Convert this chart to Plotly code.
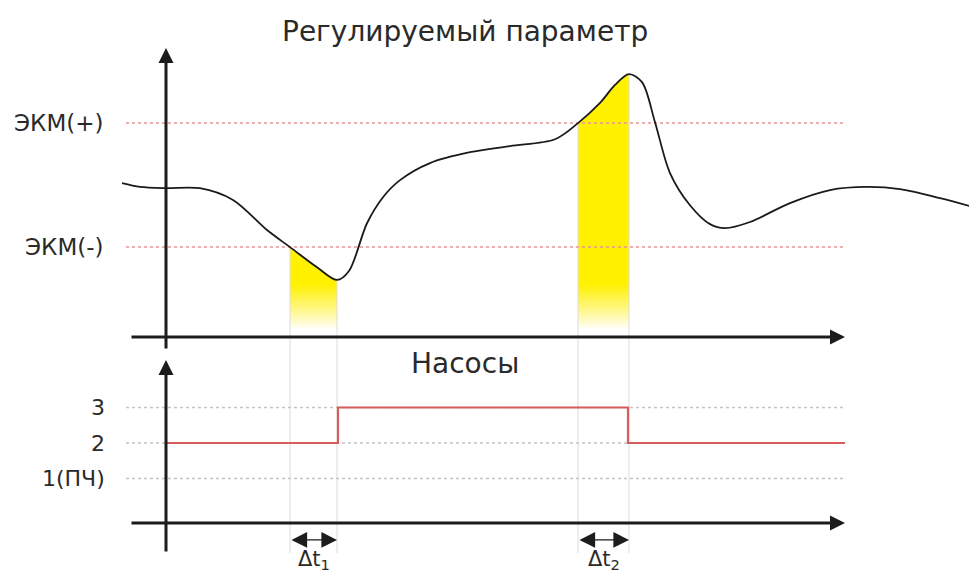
import numpy as np
import plotly.graph_objects as go

# ---------------- data ----------------
# time axis (arbitrary units); 0 = vertical axis
t_curve = [-4.4, -2.6, 0.0, 3.4, 6.7, 10.1, 12.4, 15.1, 17.1, 18.3, 20.1, 21.7, 23.4,
           26.4, 30.4, 34.4, 38.9, 41.2, 43.4, 44.9, 46.3, 47.6, 48.9, 50.4, 52.4,
           54.4, 55.9, 58.4, 62.4, 66.4, 70.1, 73.4, 77.4, 81.1]
v_curve = [4.96, 4.84, 4.80, 4.80, 4.42, 3.45, 2.90, 2.25, 1.84, 2.13, 3.67, 4.51, 5.06,
           5.61, 5.96, 6.16, 6.38, 6.90, 7.55, 8.13, 8.48, 8.22, 6.93, 5.29, 4.25,
           3.64, 3.51, 3.71, 4.32, 4.74, 4.84, 4.77, 4.48, 4.16]

ekm_plus = 6.9
ekm_minus = 2.9
ekm_labels = ["ЭКМ(+)", "ЭКМ(-)"]

# pump stages
pump_t = [0.0, 17.2, 46.2, 67.9]
pump_n = [2, 3, 2, 2]
pump_levels = [3, 2, 1]
pump_labels = ["3", "2", "1(ПЧ)"]

# delta-t intervals (start, end) and labels
dt_intervals = [(12.4, 17.1), (41.2, 46.3)]
dt_labels = ["Δt<sub>1</sub>", "Δt<sub>2</sub>"]

title_top = "Регулируемый параметр"
title_bottom = "Насосы"

# axis extents
t_axis_start, t_axis_end = -3.6, 67.9
t_grid_start = -4.0
top_v_min, top_v_max = -0.42, 9.32
bot_base = -0.254
bot_n_min, bot_n_max = -1.10, 4.34
fill_white, fill_yellow = 0.23, 1.7   # gradient fade (top-panel units)
dt_arrow_level = -0.73
dt_label_level = -1.30
vline_bottom = -6.97

# ---------------- figure ----------------
fig = go.Figure()

AX_COL = "#1c1c1c"
RED_DOT = "#e69494"
GREY_DOT = "#c4c4c4"
YEL = "#fff100"

# yellow gradient fills
for (a, b) in dt_intervals:
    idx = [i for i, t in enumerate(t_curve) if a - 1e-9 <= t <= b + 1e-9]
    xs = [t_curve[i] for i in idx]
    ys = [v_curve[i] for i in idx]
    fig.add_trace(go.Scatter(x=[xs[0], xs[-1]], y=[fill_white, fill_white], mode="lines",
                             line=dict(width=0), hoverinfo="skip", showlegend=False))
    fig.add_trace(go.Scatter(x=xs, y=ys, mode="lines", line=dict(width=0, shape="spline"),
                             fill="tonexty",
                             fillgradient=dict(type="vertical", start=fill_white, stop=fill_yellow,
                                               colorscale=[[0, "rgba(255,255,255,1)"],
                                                           [0.35, "#fff8a0"],
                                                           [1, YEL]]),
                             hoverinfo="skip", showlegend=False))

# thin grey vertical guide lines
for (a, b) in dt_intervals:
    for t in (a, b):
        v_at = float(np.interp(t, t_curve, v_curve))
        fig.add_trace(go.Scatter(x=[t, t], y=[v_at, vline_bottom], mode="lines",
                                 line=dict(color="#dcdcdc", width=1),
                                 hoverinfo="skip", showlegend=False))

# threshold dotted lines
for lvl in (ekm_plus, ekm_minus):
    fig.add_trace(go.Scatter(x=[t_grid_start, t_axis_end], y=[lvl, lvl], mode="lines",
                             line=dict(color=RED_DOT, width=1.5, dash="dot"),
                             hoverinfo="skip", showlegend=False))

# pump level dotted lines
for lvl in pump_levels:
    fig.add_trace(go.Scatter(x=[t_grid_start, t_axis_end], y=[lvl, lvl], mode="lines",
                             yaxis="y2", line=dict(color=GREY_DOT, width=1.5, dash="dot"),
                             hoverinfo="skip", showlegend=False))

# curve
fig.add_trace(go.Scatter(x=t_curve, y=v_curve, mode="lines",
                         line=dict(color="#1a1a1a", width=1.8, shape="spline", smoothing=0.9),
                         hoverinfo="skip", showlegend=False))

# pump step
fig.add_trace(go.Scatter(x=pump_t, y=pump_n, mode="lines", yaxis="y2",
                         line=dict(color="#d95c5c", width=2.2, shape="hv"),
                         hoverinfo="skip", showlegend=False))

ann = []
def arrow(x0, y0, x1, y1, yref, width=3, size=1.0, head=2, side="end"):
    ann.append(dict(x=x1, y=y1, ax=x0, ay=y0, xref="x", yref=yref, axref="x", ayref=yref,
                    showarrow=True, arrowhead=head, arrowsize=size, arrowwidth=width,
                    arrowcolor=AX_COL, arrowside=side, text=""))

# axes with arrows
arrow(0, top_v_min, 0, top_v_max, "y")
arrow(t_axis_start, 0, t_axis_end, 0, "y")
arrow(0, bot_n_min, 0, bot_n_max, "y2")
arrow(t_axis_start, bot_base, t_axis_end, bot_base, "y2")

# delta-t double arrows
for (a, b) in dt_intervals:
    arrow(a, dt_arrow_level, b, dt_arrow_level, "y2", width=1.2, size=2.6, head=2, side="end+start")

FONT = "DejaVu Sans"
TXT = "#2a2a2a"
for lbl, lvl in zip(ekm_labels, (ekm_plus, ekm_minus)):
    ann.append(dict(x=-6.1, y=lvl, xref="x", yref="y", text=lbl, showarrow=False,
                    xanchor="right", yanchor="middle", font=dict(family=FONT, size=23, color=TXT)))
for lbl, lvl in zip(pump_labels, pump_levels):
    ann.append(dict(x=-5.9, y=lvl, xref="x", yref="y2", text=lbl, showarrow=False,
                    xanchor="right", yanchor="middle", font=dict(family=FONT, size=22, color=TXT)))
for (a, b), lbl in zip(dt_intervals, dt_labels):
    ann.append(dict(x=(a + b) / 2, y=dt_label_level, xref="x", yref="y2", text=lbl, showarrow=False,
                    xanchor="center", yanchor="middle", font=dict(family=FONT, size=21, color=TXT)))

ann.append(dict(x=29.9, y=9.84, xref="x", yref="y", text=title_top, showarrow=False,
                xanchor="center", yanchor="middle", font=dict(family=FONT, size=28, color=TXT)))
ann.append(dict(x=29.9, y=4.25, xref="x", yref="y2", text=title_bottom, showarrow=False,
                xanchor="center", yanchor="middle", font=dict(family=FONT, size=28, color=TXT)))

# the page body has an 8px margin: the figure spans page pixels 8..977 x 8..572
fig.update_layout(
    width=969, height=564,
    margin=dict(l=0, r=0, t=0, b=0),
    paper_bgcolor="white", plot_bgcolor="white",
    xaxis=dict(range=[-15.8, 81.1], visible=False, fixedrange=True),
    yaxis=dict(range=[-7.581, 10.613], visible=False, fixedrange=True),
    yaxis2=dict(range=[-1.634, 14.254], visible=False, overlaying="y", fixedrange=True),
    annotations=ann,
    showlegend=False,
)

fig.write_html("out.html")
